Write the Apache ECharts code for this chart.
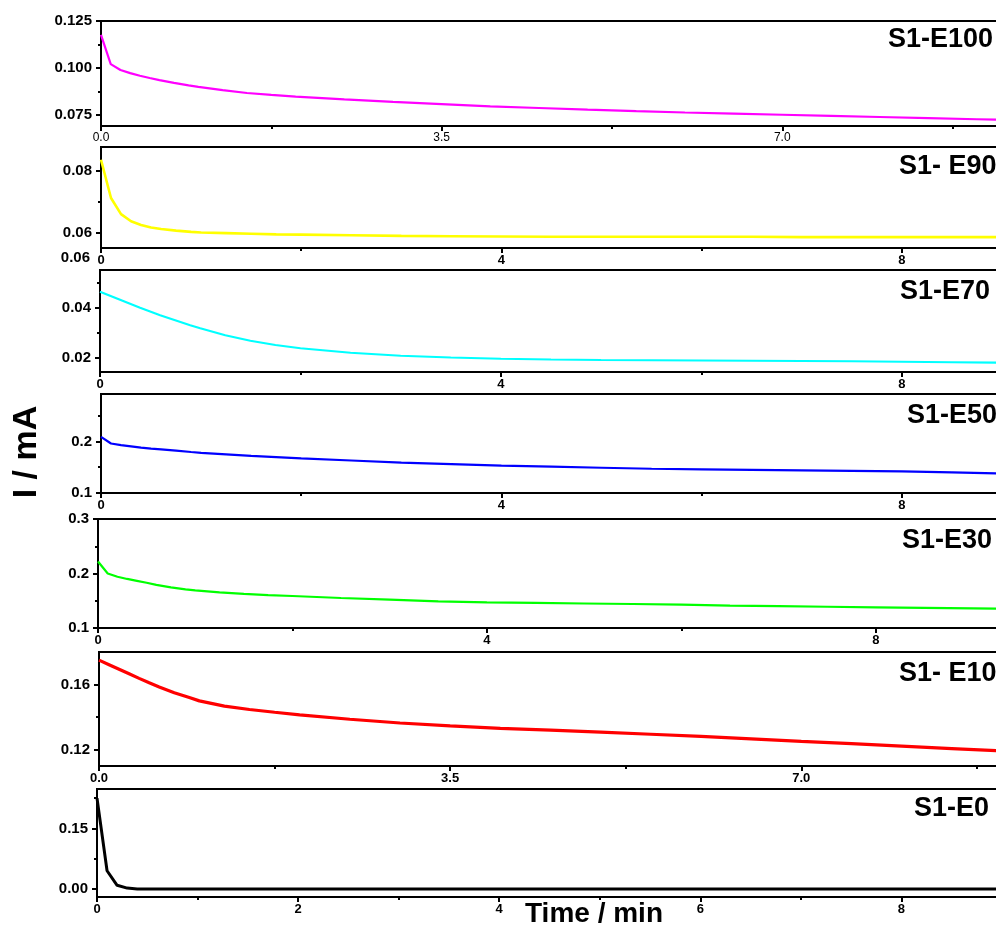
<!DOCTYPE html>
<html>
<head>
<meta charset="utf-8">
<script src="https://cdn.jsdelivr.net/npm/echarts@6/dist/echarts.min.js"></script>
<style>html,body{margin:0;padding:0;background:#fff}#c{width:996px;height:928px}</style>
</head>
<body>
<div id="c"></div>
<script>
// ---- data ----
const time = [0, 0.1, 0.2, 0.3, 0.4, 0.5, 0.6, 0.75, 0.9, 1, 1.25, 1.5, 1.75, 2, 2.5, 3, 3.5, 4, 4.5, 5, 5.5, 6, 6.5, 7, 7.5, 8, 8.5, 9, 9.5];
const sampleNames = ['S1-E100', 'S1- E90', 'S1-E70', 'S1-E50', 'S1-E30', 'S1- E10', 'S1-E0'];
const e100 = [0.1176, 0.1020, 0.0989, 0.0972, 0.0958, 0.0946, 0.0935, 0.0920, 0.0907, 0.0899, 0.0881, 0.0866, 0.0856, 0.0847, 0.0832, 0.0819, 0.0807, 0.0795, 0.0786, 0.0777, 0.0769, 0.0762, 0.0756, 0.0750, 0.0744, 0.0738, 0.0732, 0.0726, 0.0720];
const e90 = [0.0835, 0.0712, 0.0660, 0.0637, 0.0625, 0.0617, 0.0612, 0.0607, 0.0603, 0.0601, 0.0599, 0.0597, 0.0595, 0.0594, 0.0592, 0.0590, 0.0589, 0.0588, 0.0587, 0.0587, 0.0587, 0.0587, 0.0587, 0.0586, 0.0586, 0.0586, 0.0586, 0.0586, 0.0586];
const e70 = [0.0464, 0.0448, 0.0432, 0.0416, 0.0400, 0.0385, 0.0370, 0.0350, 0.0330, 0.0318, 0.0290, 0.0268, 0.0251, 0.0238, 0.0220, 0.0208, 0.0201, 0.0196, 0.0193, 0.0191, 0.0190, 0.0189, 0.0188, 0.0187, 0.0186, 0.0184, 0.0182, 0.0180, 0.0178];
const e50 = [0.209, 0.196, 0.193, 0.1905, 0.188, 0.186, 0.1845, 0.182, 0.1795, 0.178, 0.175, 0.172, 0.1695, 0.167, 0.163, 0.159, 0.156, 0.153, 0.151, 0.149, 0.147, 0.146, 0.145, 0.144, 0.143, 0.142, 0.140, 0.138, 0.137];
const e30 = [0.222, 0.200, 0.194, 0.190, 0.1865, 0.183, 0.179, 0.1745, 0.171, 0.169, 0.1655, 0.1625, 0.1605, 0.1587, 0.155, 0.152, 0.149, 0.147, 0.146, 0.145, 0.144, 0.143, 0.141, 0.140, 0.139, 0.138, 0.137, 0.136, 0.135];
const e10 = [0.175, 0.1722, 0.1694, 0.1666, 0.1638, 0.1611, 0.1585, 0.1550, 0.1520, 0.1500, 0.1468, 0.1447, 0.1430, 0.1414, 0.1387, 0.1364, 0.1346, 0.1331, 0.1320, 0.1308, 0.1295, 0.1282, 0.1267, 0.1251, 0.1237, 0.1222, 0.1207, 0.1192, 0.1177];
const e0 = [0.225, 0.045, 0.009, 0.002, 0.000, 0.000, 0.000, 0.000, 0.000, 0.000, 0.000, 0.000, 0.000, 0.000, 0.000, 0.000, 0.000, 0.000, 0.000, 0.000, 0.000, 0.000, 0.000, 0.000, 0.000, 0.000, 0.000, 0.000, 0.000];

// y tick labels (major) and minor ticks per panel
const yTicks100 = [0.075, 0.100, 0.125];
const yMinor100 = [0.0875, 0.1125];
const yTicks90 = [0.06, 0.08];
const yMinor90 = [0.07];
const yTicks70 = [0.02, 0.04];
const yMinor70 = [0.03, 0.05];
const yTicks50 = [0.1, 0.2];
const yMinor50 = [0.15, 0.25];
const yTicks30 = [0.1, 0.2, 0.3];
const yMinor30 = [0.15, 0.25];
const yTicks10 = [0.12, 0.16];
const yMinor10 = [0.14];
const yTicks0 = [0.00, 0.15];
const yMinor0 = [0.075, 0.225];

// ---- layout / styles ----
const panels = [
  {vals: e100, color: '#ff00ff', w: 2.2, left: 101, top: 21, h: 105, xmax: 9.34, xint: 3.5, xdec: 1, xfs: 12, xfw: 'normal', ymin: 0.069, ymax: 0.125, ydec: 3, ticks: yTicks100, minor: yMinor100, ly: 39.5, lx: 888},
  {vals: e90, color: '#ffff00', w: 2.6, left: 101, top: 147, h: 101, xmax: 9.08, xint: 4, xdec: 0, xfs: 13, xfw: 'bold', ymin: 0.0551, ymax: 0.0876, ydec: 2, ticks: yTicks90, minor: yMinor90, ly: 167, lx: 899},
  {vals: e70, color: '#00ffff', w: 2.2, left: 100, top: 270, h: 102, xmax: 9.08, xint: 4, xdec: 0, xfs: 13, xfw: 'bold', ymin: 0.0143, ymax: 0.0551, ydec: 2, ticks: yTicks70, minor: yMinor70, ly: 292, lx: 900},
  {vals: e50, color: '#0000ff', w: 2.2, left: 101, top: 394, h: 99, xmax: 9.08, xint: 4, xdec: 0, xfs: 13, xfw: 'bold', ymin: 0.1, ymax: 0.292, ydec: 1, ticks: yTicks50, minor: yMinor50, ly: 416, lx: 907},
  {vals: e30, color: '#00ff00', w: 2.2, left: 98, top: 519, h: 109, xmax: 9.38, xint: 4, xdec: 0, xfs: 13, xfw: 'bold', ymin: 0.1, ymax: 0.3, ydec: 1, ticks: yTicks30, minor: yMinor30, ly: 541, lx: 902},
  {vals: e10, color: '#ff0000', w: 3.2, left: 99, top: 652, h: 114, xmax: 9.08, xint: 3.5, xdec: 1, xfs: 13, xfw: 'bold', ymin: 0.11, ymax: 0.18, ydec: 2, ticks: yTicks10, minor: yMinor10, ly: 674, lx: 899},
  {vals: e0, color: '#000000', w: 3, left: 97, top: 789, h: 108, xmax: 9.08, xint: 2, xdec: 0, xfs: 13, xfw: 'bold', ymin: -0.02, ymax: 0.2475, ydec: 2, ticks: yTicks0, minor: yMinor0, ly: 809, lx: 914}
];

const FONT = 'Arial, "Liberation Sans", Helvetica, sans-serif';
const grid = [], xAxis = [], yAxis = [], series = [], graphic = [];

panels.forEach((p, i) => {
  grid.push({left: p.left, top: p.top, width: 1010 - p.left, height: p.h, show: true, borderColor: '#000', borderWidth: 2,
    containLabel: false, outerBoundsMode: 'none'});
  xAxis.push({
    type: 'value', gridIndex: i, min: 0, max: p.xmax, interval: p.xint,
    axisLine: {show: true, onZero: false, lineStyle: {color: '#000', width: 2}},
    axisTick: {show: true, inside: false, length: 5, lineStyle: {color: '#000', width: 2}},
    minorTick: {show: true, splitNumber: 2, length: 3, lineStyle: {color: '#000', width: 2}},
    splitLine: {show: false},
    axisLabel: {show: true, margin: 6, showMaxLabel: false, fontFamily: FONT, fontSize: p.xfs, fontWeight: p.xfw, color: '#000',
      formatter: v => v.toFixed(p.xdec)}
  });
  yAxis.push({
    type: 'value', gridIndex: i, min: p.ymin, max: p.ymax, position: 'left',
    axisLine: {show: true, onZero: false, lineStyle: {color: '#000', width: 2}},
    axisTick: {show: true, inside: false, length: 5, customValues: p.ticks, lineStyle: {color: '#000', width: 2}},
    splitLine: {show: false},
    axisLabel: {show: true, margin: 9, customValues: p.ticks, fontFamily: FONT, fontSize: 15, fontWeight: 'bold', color: '#000',
      formatter: v => v.toFixed(p.ydec)}
  });
  yAxis.push({
    type: 'value', gridIndex: i, min: p.ymin, max: p.ymax, position: 'left',
    axisLine: {show: false},
    axisTick: {show: true, inside: false, length: 3, customValues: p.minor, lineStyle: {color: '#000', width: 2}},
    splitLine: {show: false},
    axisLabel: {show: false}
  });
  series.push({
    type: 'line', xAxisIndex: i, yAxisIndex: 2 * i, name: sampleNames[i],
    data: time.map((t, j) => [t, p.vals[j]]),
    showSymbol: false, symbol: 'none', clip: true, smooth: false,
    lineStyle: {color: p.color, width: p.w}, animation: false
  });
  graphic.push({type: 'text', x: p.lx, y: p.ly, z: 10,
    style: {text: sampleNames[i], font: 'bold 27px ' + FONT, fill: '#000', textAlign: 'left', textVerticalAlign: 'middle'}});
});

graphic.push({type: 'text', x: 90, y: 258, z: 10,
  style: {text: '0.06', font: 'bold 15px ' + FONT, fill: '#000', textAlign: 'right', textVerticalAlign: 'middle'}});
graphic.push({type: 'text', x: 27, y: 452, rotation: Math.PI / 2, z: 10,
  style: {text: 'I / mA', font: 'bold 34px ' + FONT, fill: '#000', textAlign: 'center', textVerticalAlign: 'middle'}});
graphic.push({type: 'text', x: 594, y: 914, z: 10,
  style: {text: 'Time / min', font: 'bold 28px ' + FONT, fill: '#000', textAlign: 'center', textVerticalAlign: 'middle'}});

const chart = echarts.init(document.getElementById('c'), null, {renderer: 'canvas'});
chart.setOption({
  backgroundColor: '#fff',
  animation: false,
  grid, xAxis, yAxis, series, graphic
});
</script>
</body>
</html>
